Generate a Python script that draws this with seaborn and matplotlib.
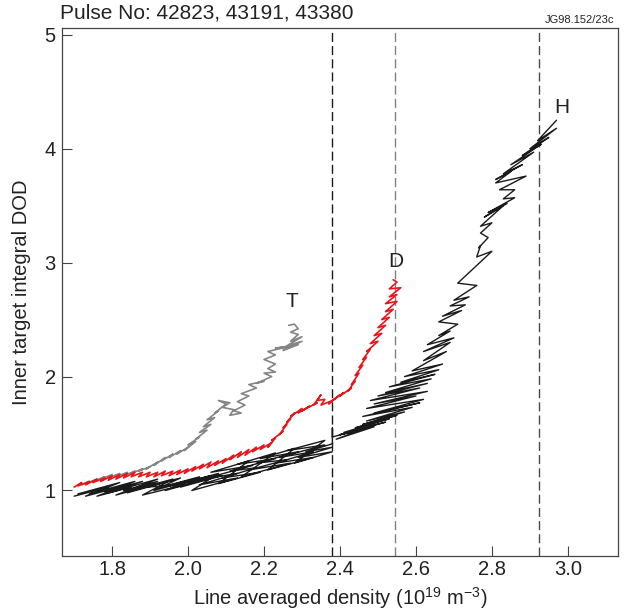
import matplotlib
matplotlib.use("Agg")
import matplotlib.pyplot as plt
import seaborn as sns
from matplotlib.ticker import FormatStrFormatter

# traces: line averaged density vs inner target DOD
# T (grey)
t_density = [1.72, 1.74, 1.73, 1.76, 1.75, 1.78, 1.77, 1.80, 1.79, 1.82,
             1.81, 1.84, 1.83, 1.86, 1.85, 1.88, 1.87, 1.90, 1.89, 1.92,
             1.91, 1.94, 1.93, 1.96, 1.95, 1.98, 1.97, 2.00, 1.99, 2.02,
             2.00, 2.03, 2.02, 2.05, 2.03, 2.06, 2.04, 2.07, 2.05, 2.08,
             2.07, 2.10, 2.08, 2.11, 2.09, 2.12, 2.11, 2.14, 2.12, 2.15,
             2.13, 2.16, 2.14, 2.18, 2.16, 2.20, 2.18, 2.22, 2.20, 2.23,
             2.21, 2.23, 2.20, 2.23, 2.21, 2.26, 2.23, 2.29, 2.25, 2.30,
             2.26, 2.30, 2.27, 2.29, 2.27, 2.29, 2.28, 2.265]
t_dod = [1.05, 1.08, 1.06, 1.10, 1.08, 1.12, 1.10, 1.14, 1.11, 1.15,
         1.12, 1.16, 1.13, 1.17, 1.15, 1.19, 1.17, 1.21, 1.19, 1.25,
         1.22, 1.29, 1.26, 1.32, 1.29, 1.35, 1.32, 1.38, 1.35, 1.43,
         1.40, 1.47, 1.45, 1.53, 1.51, 1.58, 1.56, 1.64, 1.62, 1.70,
         1.68, 1.76, 1.79, 1.77, 1.73, 1.71, 1.66, 1.68, 1.70, 1.75,
         1.78, 1.83, 1.85, 1.90, 1.93, 1.96, 1.94, 2.00, 2.03, 2.04,
         2.07, 2.11, 2.15, 2.19, 2.22, 2.26, 2.25, 2.28, 2.23, 2.31,
         2.27, 2.35, 2.31, 2.37, 2.39, 2.42, 2.46, 2.45]

# D (red)
d_density = [1.70, 1.72, 1.71, 1.74, 1.73, 1.76, 1.75, 1.78, 1.77, 1.80,
             1.79, 1.82, 1.81, 1.84, 1.83, 1.86, 1.85, 1.88, 1.87, 1.90,
             1.89, 1.92, 1.91, 1.94, 1.93, 1.96, 1.95, 1.98, 1.97, 2.00,
             1.99, 2.02, 2.01, 2.04, 2.03, 2.06, 2.05, 2.08, 2.07, 2.10,
             2.09, 2.12, 2.11, 2.14, 2.13, 2.16, 2.15, 2.18, 2.17, 2.20,
             2.19, 2.22, 2.21, 2.23, 2.22, 2.25, 2.24, 2.26, 2.25, 2.27,
             2.26, 2.28, 2.27, 2.30, 2.29, 2.32, 2.30, 2.34, 2.33, 2.35,
             2.34, 2.36, 2.35, 2.38, 2.37, 2.40, 2.38, 2.41, 2.40, 2.43,
             2.42, 2.44, 2.43, 2.45, 2.44, 2.46, 2.45, 2.47, 2.46, 2.48,
             2.47, 2.50, 2.48, 2.51, 2.49, 2.52, 2.50, 2.53, 2.51, 2.54,
             2.52, 2.55, 2.52, 2.55, 2.53, 2.56, 2.53, 2.55, 2.54]
d_dod = [1.03, 1.07, 1.04, 1.08, 1.05, 1.10, 1.07, 1.11, 1.08, 1.13,
         1.09, 1.14, 1.10, 1.15, 1.11, 1.16, 1.12, 1.16, 1.12, 1.16,
         1.12, 1.16, 1.12, 1.17, 1.13, 1.17, 1.13, 1.18, 1.14, 1.19,
         1.15, 1.21, 1.17, 1.23, 1.19, 1.25, 1.20, 1.26, 1.22, 1.28,
         1.24, 1.31, 1.27, 1.34, 1.29, 1.36, 1.31, 1.38, 1.34, 1.40,
         1.36, 1.42, 1.38, 1.46, 1.44, 1.52, 1.49, 1.58, 1.55, 1.63,
         1.60, 1.68, 1.65, 1.72, 1.68, 1.74, 1.70, 1.77, 1.75, 1.84,
         1.79, 1.80, 1.75, 1.79, 1.76, 1.84, 1.79, 1.86, 1.83, 1.90,
         1.87, 1.96, 1.93, 2.03, 2.01, 2.10, 2.08, 2.17, 2.15, 2.24,
         2.22, 2.31, 2.29, 2.38, 2.36, 2.45, 2.43, 2.52, 2.50, 2.59,
         2.57, 2.66, 2.64, 2.72, 2.70, 2.78, 2.77, 2.83, 2.85]

# H (black)
h_density = [1.70, 1.79, 1.71, 1.82, 1.73, 1.83, 1.74, 1.86, 1.76, 1.85,
             1.78, 1.88, 1.79, 1.92, 1.81, 1.91, 1.83, 1.92, 1.84, 1.96,
             1.86, 1.96, 1.88, 1.99, 1.89, 1.98, 1.91, 2.03, 1.93, 2.03,
             1.94, 2.07, 1.96, 2.06, 1.98, 2.09, 1.99, 2.08, 2.01, 2.13,
             2.03, 2.13, 2.04, 2.17, 2.06, 2.16, 2.08, 2.19, 2.09, 2.18,
             2.11, 2.23, 2.13, 2.23, 2.14, 2.27, 2.16, 2.26, 2.18, 2.29,
             2.19, 2.28, 2.21, 2.33, 2.23, 2.33, 2.24, 2.36, 2.26, 2.36,
             2.28, 2.38, 2.29, 2.38, 2.31, 2.38, 2.38, 2.38,
             2.46, 2.39, 2.49, 2.40, 2.52, 2.41, 2.53, 2.44, 2.55, 2.46,
             2.57, 2.47, 2.59, 2.46, 2.61, 2.49, 2.62, 2.47, 2.60, 2.49,
             2.63, 2.48, 2.61, 2.50, 2.63, 2.52, 2.64, 2.53, 2.65, 2.56,
             2.66, 2.57, 2.67, 2.59,
             2.68, 2.62, 2.69, 2.62, 2.70, 2.63, 2.69, 2.66, 2.71, 2.66,
             2.72, 2.67, 2.73, 2.69, 2.74, 2.70, 2.76, 2.71, 2.80, 2.76,
             2.77, 2.765, 2.79, 2.77, 2.80, 2.77, 2.83, 2.78, 2.84, 2.79,
             2.86, 2.83, 2.86, 2.82, 2.89, 2.81, 2.85, 2.81, 2.88, 2.83,
             2.91, 2.85, 2.93, 2.88, 2.95, 2.90, 2.97, 2.92, 2.97]
h_dod = [0.95, 1.03, 0.97, 1.07, 0.95, 1.04, 0.97, 1.08, 0.95, 1.03,
         0.99, 1.08, 0.98, 1.10, 0.96, 1.05, 1.00, 1.08, 0.98, 1.09,
         1.01, 1.10, 0.96, 1.05, 1.03, 1.11, 1.00, 1.11, 1.03, 1.12,
         1.00, 1.12, 1.04, 1.13, 1.03, 1.13, 1.07, 1.15, 1.00, 1.11,
         1.05, 1.15, 1.10, 1.22, 1.16, 1.26, 1.06, 1.16, 1.11, 1.20,
         1.17, 1.28, 1.23, 1.33, 1.12, 1.24, 1.18, 1.27, 1.24, 1.34,
         1.28, 1.37, 1.18, 1.29, 1.24, 1.34, 1.29, 1.40, 1.35, 1.44,
         1.24, 1.34, 1.29, 1.38, 1.34, 1.41, 1.55, 1.47,
         1.54, 1.45, 1.56, 1.49, 1.60, 1.51, 1.63, 1.55, 1.66, 1.58,
         1.69, 1.61, 1.73, 1.65, 1.77, 1.68, 1.80, 1.72, 1.83, 1.76,
         1.87, 1.79, 1.90, 1.83, 1.94, 1.86, 1.98, 1.91, 2.02, 1.95,
         2.06, 2.00, 2.11, 2.05,
         2.22, 2.14, 2.30, 2.22, 2.34, 2.28, 2.40, 2.36, 2.46, 2.48,
         2.58, 2.53, 2.63, 2.62, 2.70, 2.67, 2.80, 2.82, 3.10, 3.05,
         3.15, 3.13, 3.22, 3.26, 3.35, 3.32, 3.50, 3.40, 3.52, 3.44,
         3.57, 3.56, 3.64, 3.64, 3.76, 3.70, 3.80, 3.73, 3.86, 3.78,
         3.97, 3.86, 4.04, 3.94, 4.10, 4.00, 4.18, 4.07, 4.25]

# density limits (dashed markers)
limit_density = [2.38, 2.545, 2.923]
limit_colors = ["#1a1a1a", "#808080", "#4a4a4a"]

x_ticks = [1.8, 2.0, 2.2, 2.4, 2.6, 2.8, 3.0]
y_ticks = [1, 2, 3, 4, 5]

sns.set_theme(style="ticks")
plt.rcParams['font.family'] = ['Liberation Sans', 'DejaVu Sans']
plt.rcParams['mathtext.fontset'] = 'custom'
plt.rcParams['mathtext.rm'] = 'Liberation Sans'
plt.rcParams['mathtext.it'] = 'Liberation Sans:italic'

fig = plt.figure(figsize=(6.27, 6.13), dpi=100)
ax = fig.add_axes([62 / 627, 1 - 556 / 613, 556 / 627, 528 / 613])

for xv, c in zip(limit_density, limit_colors):
    ax.axvline(xv, color=c, lw=1.0, linestyle=(0, (6.5, 3)), zorder=1)

sns.lineplot(x=t_density, y=t_dod, sort=False, estimator=None,
             color="#858585", lw=1.2, ax=ax, zorder=2)
sns.lineplot(x=d_density, y=d_dod, sort=False, estimator=None,
             color="#e8161b", lw=1.2, ax=ax, zorder=3)
sns.lineplot(x=h_density, y=h_dod, sort=False, estimator=None,
             color="#1a1a1a", lw=1.0, ax=ax, zorder=4)

# series labels just past the end of each trace
ax.annotate("T", (t_density[-1], t_dod[-1]), xytext=(2, 17), textcoords="offset points",
            ha="center", va="center", fontsize=15, color="#222222")
ax.annotate("D", (d_density[-1], d_dod[-1]), xytext=(2, 13), textcoords="offset points",
            ha="center", va="center", fontsize=15, color="#222222")
ax.annotate("H", (h_density[-1], h_dod[-1]), xytext=(4, 9), textcoords="offset points",
            ha="center", va="center", fontsize=15, color="#222222")

ax.set_xlim(1.668, 3.132)
ax.set_ylim(0.425, 5.06)
ax.set_xticks(x_ticks)
ax.set_yticks(y_ticks)
ax.xaxis.set_major_formatter(FormatStrFormatter('%.1f'))
ax.yaxis.set_major_formatter(FormatStrFormatter('%d'))
ax.tick_params(axis='both', direction='in', length=7.5, width=0.8,
               color="#444444", labelsize=14.5, labelcolor="#222222")
ax.tick_params(axis='x', pad=3)
ax.tick_params(axis='y', pad=4.5)
for s in ax.spines.values():
    s.set_color("#444444")
    s.set_linewidth(0.9)

ax.set_xlabel("Line averaged density (10$^{19}$ m$^{-3}$)", fontsize=14.5, color="#222222")
ax.set_ylabel("Inner target integral DOD", fontsize=14.5, color="#222222")
ax.xaxis.set_label_coords(0.5, -0.055)
ax.yaxis.set_label_coords(-0.055, 0.5)

fig.text(60 / 627, 1 - 13 / 613, "Pulse No: 42823, 43191, 43380", fontsize=15,
         ha="left", va="center", color="#222222")
fig.text(614 / 627, 1 - 20 / 613, "JG98.152/23c", fontsize=8,
         ha="right", va="center", color="#222222")

fig.savefig("out.png", dpi=100)
